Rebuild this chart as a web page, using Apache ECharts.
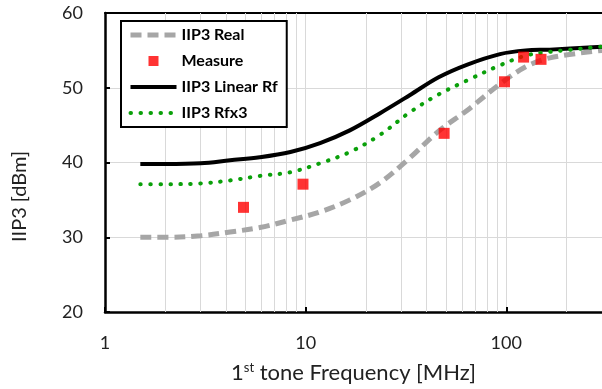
<!DOCTYPE html>
<html><head><meta charset="utf-8">
<script src="https://cdn.jsdelivr.net/npm/echarts@6/dist/echarts.min.js"></script>
<style>html,body{margin:0;padding:0;background:#fff}#c{width:602px;height:389px}</style>
</head><body><div id="c"></div>
<script>
// Frequencies (MHz) for curves
const freq = [1.5, 2, 3, 4.2, 5.9, 8.4, 11.8, 16.6, 23.5, 33, 46, 64, 93, 125, 165, 300];
const iip3Real   = [30.0, 30.0, 30.2, 30.7, 31.3, 32.3, 33.4, 35.0, 37.3, 40.6, 44.2, 47.0, 50.5, 52.8, 54.0, 55.0];
const iip3Linear = [39.8, 39.8, 39.9, 40.3, 40.7, 41.4, 42.6, 44.3, 46.6, 49.0, 51.4, 53.1, 54.5, 55.0, 55.1, 55.5];
const iip3Rfx3   = [37.1, 37.1, 37.2, 37.6, 38.2, 38.7, 39.9, 41.4, 43.7, 46.7, 49.1, 51.0, 53.0, 54.3, 54.8, 55.5];
// Measured points
const measFreq = [4.9, 9.7, 49, 98, 122, 149];
const measVal  = [34.0, 37.1, 43.9, 50.8, 54.1, 53.8];
// Minor (log) grid lines
const minorGrid = [2,3,4,5,6,7,8,9,20,30,40,50,60,70,80,90,200,300];

const pair = (xs, ys) => xs.map((x, i) => [x, ys[i]]);
const FONT = 'Lato, "Open Sans", sans-serif';
const hideSym = { color: 'rgba(0,0,0,0)', borderWidth: 0 };
const legText = { fontFamily: FONT, fontWeight: 'bold', fontSize: 16, color: '#000', lineHeight: 16 };
const chart = echarts.init(document.getElementById('c'));
chart.setOption({
  animation: false,
  textStyle: { fontFamily: FONT },
  grid: { left: 105, right: 0, top: 13, bottom: 77, outerBoundsMode: 'none', containLabel: false },
  legend: {
    data: [
      { name: 'IIP3 Real', itemStyle: hideSym, textStyle: legText, lineStyle: { color: '#a6a6a6', width: 5, type: [11, 6] } },
      { name: 'Measure', icon: 'path://M0,0h10v10h-10z', textStyle: legText },
      { name: 'IIP3 Linear Rf', itemStyle: hideSym, textStyle: legText, lineStyle: { color: '#000', width: 4, type: 'solid' } },
      { name: 'IIP3 Rfx3', itemStyle: hideSym, textStyle: legText, lineStyle: { color: '#0aa00a', width: 4, type: [0.5, 9.5], cap: 'round' } }
    ],
    orient: 'vertical',
    left: 121, top: 21,
    padding: [6, 9, 6, 7],
    itemGap: 10,
    itemWidth: 46, itemHeight: 10,
    borderColor: '#000', borderWidth: 2,
    backgroundColor: '#fff',
    textStyle: legText,
    z: 10
  },
  xAxis: [{
    type: 'log', logBase: 10, min: 1, max: 300,
    axisLine: { lineStyle: { color: '#000', width: 2.5 } },
    axisTick: { inside: true, length: 5, lineStyle: { color: '#000', width: 2 } },
    axisLabel: { fontSize: 18, color: '#222', margin: 22, fontFamily: FONT, showMaxLabel: false,
      formatter: v => (v === 300 ? '' : String(v)) },
    splitLine: { show: true, lineStyle: { color: '#d9d9d9', width: 1 } },
    minorTick: { show: false }, minorSplitLine: { show: false },
    name: '1{sup|st} tone Frequency [MHz]',
    nameLocation: 'middle', nameGap: 49,
    nameTextStyle: { fontSize: 22, color: '#222', fontFamily: FONT,
      rich: { sup: { fontSize: 13, verticalAlign: 'top', padding: [0, 0, 10, 0], color: '#222', fontFamily: FONT } } }
  }, {
    type: 'log', logBase: 10, min: 1, max: 300, position: 'top',
    axisLine: { lineStyle: { color: '#000', width: 2 } },
    axisTick: { show: false }, axisLabel: { show: false }, splitLine: { show: false }
  }],
  yAxis: {
    type: 'value', min: 20, max: 60, interval: 10,
    axisLine: { show: true, lineStyle: { color: '#000', width: 2.5 } },
    axisTick: { show: true, inside: true, length: 5, lineStyle: { color: '#000', width: 2 } },
    axisLabel: { fontSize: 18, color: '#222', margin: 22, fontFamily: FONT },
    splitLine: { show: true, lineStyle: { color: '#d9d9d9', width: 1 } },
    name: 'IIP3 [dBm]', nameLocation: 'middle', nameGap: 75,
    nameTextStyle: { fontSize: 20, color: '#222', fontFamily: FONT, padding: [0, 68, 0, 0] }
  },
  series: [
    { name: 'grid', type: 'line', data: [], z: 1, silent: true,
      markLine: { silent: true, z: 1, symbol: 'none', label: { show: false },
        lineStyle: { color: '#d9d9d9', width: 1, type: 'solid' },
        data: minorGrid.map(v => ({ xAxis: v })) } },
    { name: 'IIP3 Real', type: 'line', data: pair(freq, iip3Real), smooth: 0.35, showSymbol: false, symbol: 'none', z: 3,
      lineStyle: { color: '#a6a6a6', width: 5, type: [11, 6] }, itemStyle: { color: '#a6a6a6' } },
    { name: 'IIP3 Linear Rf', type: 'line', data: pair(freq, iip3Linear), smooth: 0.35, showSymbol: false, symbol: 'none', z: 3,
      lineStyle: { color: '#000', width: 4 }, itemStyle: { color: '#000' } },
    { name: 'IIP3 Rfx3', type: 'line', data: pair(freq, iip3Rfx3), smooth: 0.35, showSymbol: false, symbol: 'none', z: 3,
      lineStyle: { color: '#0aa00a', width: 4, type: [0.5, 9.5], cap: 'round' }, itemStyle: { color: '#0aa00a' } },
    { name: 'Measure', type: 'scatter', data: pair(measFreq, measVal), z: 4,
      symbol: 'rect', symbolSize: 11, symbolKeepAspect: true, itemStyle: { color: '#ff0000' } }
  ]
});
</script></body></html>
